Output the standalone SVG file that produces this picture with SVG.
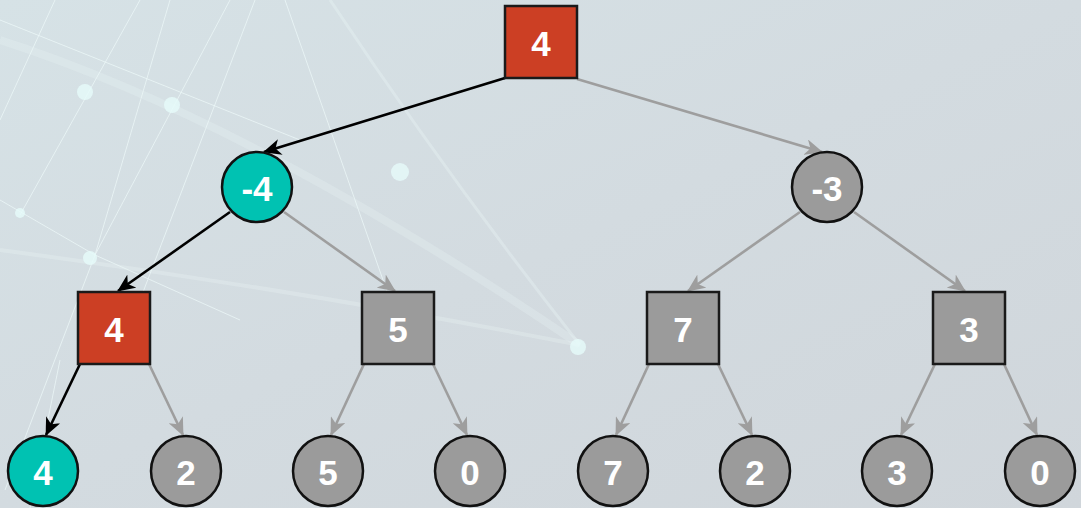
<svg xmlns="http://www.w3.org/2000/svg" width="1081" height="508" viewBox="0 0 1081 508">
<defs>
<linearGradient id="bg" x1="0" y1="0" x2="1" y2="1">
<stop offset="0" stop-color="#d6e2e6"/>
<stop offset="0.5" stop-color="#d3dbe0"/>
<stop offset="1" stop-color="#d0d6db"/>
</linearGradient>
<marker id="ab" viewBox="0 0 18 16" refX="17" refY="8" markerWidth="18" markerHeight="16" markerUnits="userSpaceOnUse" orient="auto">
<path d="M0,0 L18,8 L0,16 L5,8 Z" fill="#000"/>
</marker>
<marker id="ag" viewBox="0 0 18 16" refX="17" refY="8" markerWidth="18" markerHeight="16" markerUnits="userSpaceOnUse" orient="auto">
<path d="M0,0 L18,8 L0,16 L5,8 Z" fill="#9e9e9e"/>
</marker>
</defs>
<style>
.sq{stroke:#1a1a1a;stroke-width:2.5}
.ci{stroke:#111;stroke-width:2.5}
.red{fill:#cc3f24}
.teal{fill:#00c2b2}
.gray{fill:#9b9b9b}
.t{font-family:"Liberation Sans",Arial,sans-serif;font-weight:bold;font-size:35px;fill:#fff;text-anchor:middle;dominant-baseline:central}
.e{fill:none;stroke-width:2.6}
.eb{stroke:#000;marker-end:url(#ab)}
.eg{stroke:#9e9e9e;marker-end:url(#ag)}
.deco{stroke:#eefafa;stroke-width:1;fill:none;opacity:0.7}
.glow{fill:#e6fbfa;opacity:0.8}
</style>
<rect width="1081" height="508" fill="url(#bg)"/>
<g id="background">
<path class="deco" d="M55,0 L0,120 M140,0 L20,215 M170,0 L95,255 M230,0 L95,255 L5,490 M255,0 L140,300 M285,0 L390,300 M0,200 L95,255 L240,320 M0,20 L300,140 M30,508 L60,360"/>
<path d="M0,40 Q250,120 580,345" stroke="#eaf6f6" stroke-width="8" fill="none" opacity="0.25"/>
<path d="M330,0 Q450,180 580,345" stroke="#eaf6f6" stroke-width="3" fill="none" opacity="0.35"/>
<path d="M0,250 Q300,290 580,345" stroke="#eaf6f6" stroke-width="4" fill="none" opacity="0.3"/>
<circle class="glow" cx="85" cy="92" r="8"/>
<circle class="glow" cx="172" cy="105" r="8"/>
<circle class="glow" cx="20" cy="213" r="5"/>
<circle class="glow" cx="90" cy="258" r="7"/>
<circle class="glow" cx="578" cy="347" r="8"/>
<circle class="glow" cx="400" cy="172" r="9" opacity="0.4"/>
</g>
<g id="connectors">
<line class="e eb" x1="505" y1="78" x2="264" y2="152"/>
<line class="e eg" x1="577" y1="79" x2="822" y2="152"/>
<line class="e eb" x1="230" y1="212" x2="118" y2="291"/>
<line class="e eg" x1="284" y1="212" x2="395" y2="291"/>
<line class="e eg" x1="800" y1="212" x2="688" y2="291"/>
<line class="e eg" x1="854" y1="212" x2="965" y2="291"/>
<line class="e eb" x1="80" y1="364" x2="46" y2="435"/>
<line class="e eg" x1="149" y1="364" x2="183" y2="435"/>
<line class="e eg" x1="364" y1="364" x2="331" y2="435"/>
<line class="e eg" x1="433" y1="364" x2="467" y2="435"/>
<line class="e eg" x1="649" y1="364" x2="616" y2="435"/>
<line class="e eg" x1="718" y1="364" x2="752" y2="435"/>
<line class="e eg" x1="935" y1="364" x2="901" y2="435"/>
<line class="e eg" x1="1004" y1="364" x2="1037" y2="435"/>
</g>
<g id="n0"><rect class="sq red" x="505" y="6" width="72" height="72"/><text class="t" x="541" y="43">4</text></g>
<g id="n1"><circle class="ci teal" cx="257" cy="187" r="35"/><text class="t" x="257" y="188">-4</text></g>
<g id="n2"><circle class="ci gray" cx="827" cy="187" r="35"/><text class="t" x="827" y="188">-3</text></g>
<g id="n3"><rect class="sq red" x="78" y="292" width="72" height="72"/><text class="t" x="114" y="329">4</text></g>
<g id="n4"><rect class="sq gray" x="362" y="292" width="72" height="72"/><text class="t" x="398" y="329">5</text></g>
<g id="n5"><rect class="sq gray" x="647" y="292" width="72" height="72"/><text class="t" x="683" y="329">7</text></g>
<g id="n6"><rect class="sq gray" x="933" y="292" width="72" height="72"/><text class="t" x="969" y="329">3</text></g>
<g id="n7"><circle class="ci teal" cx="43" cy="471" r="35"/><text class="t" x="43" y="472">4</text></g>
<g id="n8"><circle class="ci gray" cx="186" cy="471" r="35"/><text class="t" x="186" y="472">2</text></g>
<g id="n9"><circle class="ci gray" cx="328" cy="471" r="35"/><text class="t" x="328" y="472">5</text></g>
<g id="n10"><circle class="ci gray" cx="470" cy="471" r="35"/><text class="t" x="470" y="472">0</text></g>
<g id="n11"><circle class="ci gray" cx="613" cy="471" r="35"/><text class="t" x="613" y="472">7</text></g>
<g id="n12"><circle class="ci gray" cx="755" cy="471" r="35"/><text class="t" x="755" y="472">2</text></g>
<g id="n13"><circle class="ci gray" cx="897" cy="471" r="35"/><text class="t" x="897" y="472">3</text></g>
<g id="n14"><circle class="ci gray" cx="1040" cy="471" r="35"/><text class="t" x="1040" y="472">0</text></g>
</svg>
